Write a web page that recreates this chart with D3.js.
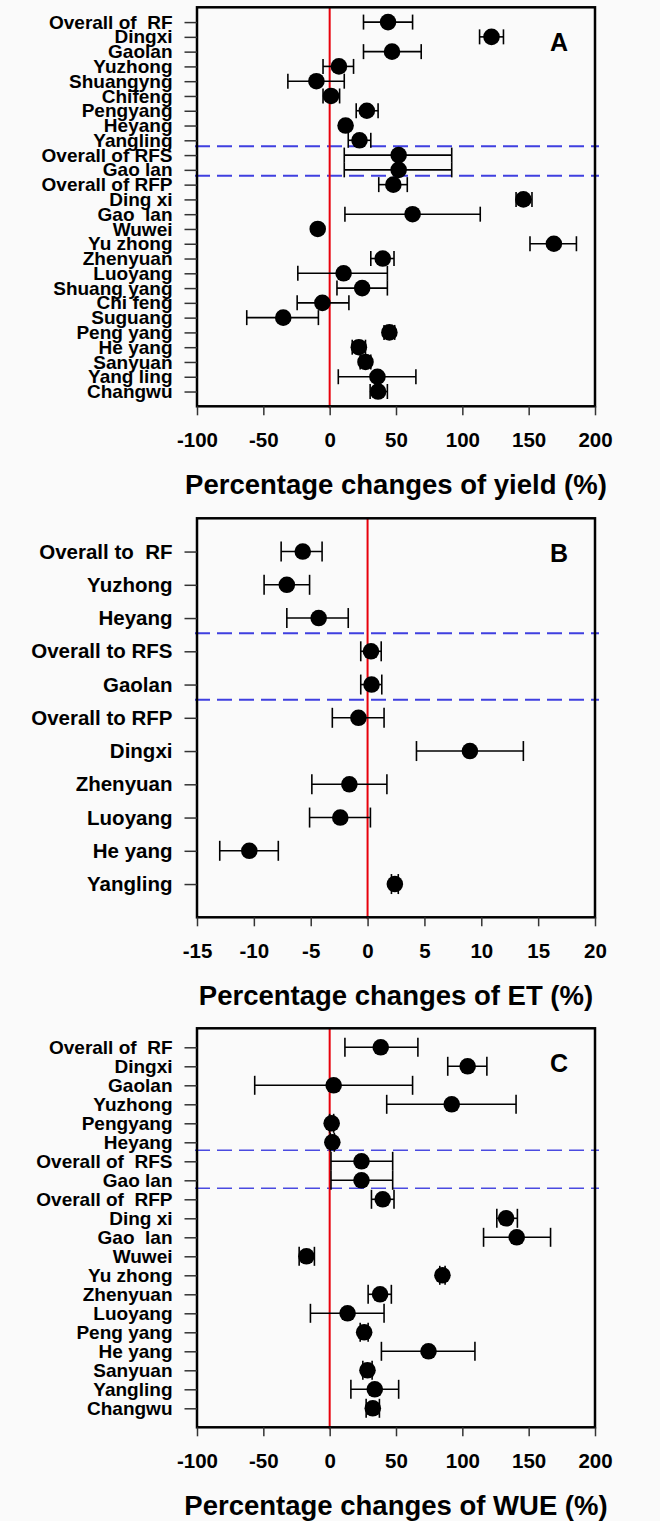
<!DOCTYPE html>
<html lang="en">
<head>
<meta charset="UTF-8" />
<title>percentage changes</title>
<script src="https://cdn.jsdelivr.net/npm/d3@7"></script>
<style>
  body { margin: 0; background: #fafafa; }
  svg text { font-family: "Liberation Sans", Arial, sans-serif; font-weight: bold; fill: #000; white-space: pre; }
</style>
</head>
<body>
<svg id="fig" width="660" height="1521"></svg>
<script>
// ---- panel A : yield ----
let yieldSites = ["Overall of  RF", "Dingxi", "Gaolan", "Yuzhong", "Shuangyng", "Chifeng", "Pengyang", "Heyang", "Yangling",
  "Overall of RFS", "Gao lan", "Overall of RFP", "Ding xi", "Gao  lan", "Wuwei", "Yu zhong", "Zhenyuan", "Luoyang",
  "Shuang yang", "Chi feng", "Suguang", "Peng yang", "He yang", "Sanyuan", "Yang ling", "Changwu"];
let yieldMean = [44, 122, 47, 7, -10, 1, 28, 12, 22.5, 52, 52, 48, 146, 62.5, -9, 169, 40, 10.5, 24.5, -5.5, -35, 45, 22, 27, 36, 36.5];
let yieldLow = [25.5, 113, 25.5, -5, -31.5, -5, 20, 10, 14, 11, 11, 37, 140.5, 11.5, -9, 151, 31, -24, 5.5, -24.5, -62.5, 41, 17, 23, 6.5, 30.5];
let yieldHigh = [62.5, 131, 69, 18, 11, 7.5, 36.5, 14, 31, 92, 92, 58.5, 152.5, 113.5, -9, 186, 48.5, 43.5, 43.5, 14.5, -8.5, 49, 27, 31, 65, 43.5];
let yieldSplits = ["Yangling", "Gao lan"]; // dashed line drawn below these rows
let yieldTicks = [-100, -50, 0, 50, 100, 150, 200];

// ---- panel B : ET ----
let etSites = ["Overall to  RF", "Yuzhong", "Heyang", "Overall to RFS", "Gaolan", "Overall to RFP", "Dingxi", "Zhenyuan", "Luoyang", "He yang", "Yangling"];
let etMean = [-5.7, -7.1, -4.3, 0.3, 0.35, -0.8, 9.0, -1.6, -2.4, -10.4, 2.4];
let etLow = [-7.6, -9.1, -7.1, -0.6, -0.6, -3.1, 4.3, -4.9, -5.1, -13.0, 2.1];
let etHigh = [-4.0, -5.1, -1.7, 1.2, 1.25, 1.45, 13.7, 1.7, 0.25, -7.85, 2.7];
let etSplits = ["Heyang", "Gaolan"];
let etTicks = [-15, -10, -5, 0, 5, 10, 15, 20];

// ---- panel C : WUE ----
let wueSites = ["Overall of  RF", "Dingxi", "Gaolan", "Yuzhong", "Pengyang", "Heyang", "Overall of  RFS", "Gao lan",
  "Overall of  RFP", "Ding xi", "Gao  lan", "Wuwei", "Yu zhong", "Zhenyuan", "Luoyang", "Peng yang", "He yang",
  "Sanyuan", "Yangling", "Changwu"];
let wueMean = [38.5, 104, 3, 92, 1.5, 2, 24, 24, 40, 133, 141, -17.5, 85, 38, 13.5, 26, 74.5, 28.5, 34, 32.5];
let wueLow = [11.5, 89, -56.5, 43, 0, 0.5, 1, 1, 31.5, 126, 116, -23, 83, 29, -14.5, 23, 39, 25, 16, 27.5];
let wueHigh = [66.5, 118.5, 62.5, 140.5, 3, 3.5, 47.5, 47.5, 48.5, 141.5, 166.5, -11.5, 87, 46.5, 41, 29, 109.5, 32, 52, 37.5];
let wueSplits = ["Heyang", "Gao lan"];
let wueTicks = [-100, -50, 0, 50, 100, 150, 200];

let panels = [
  { tag: "A", sites: yieldSites, mean: yieldMean, low: yieldLow, high: yieldHigh, splits: yieldSplits, ticks: yieldTicks,
    title: "Percentage changes of yield (%)", top: 7.3, labelSize: 19, cap: 7.5, dash: "#3f3fe0", dashW: 2 },
  { tag: "B", sites: etSites, mean: etMean, low: etLow, high: etHigh, splits: etSplits, ticks: etTicks,
    title: "Percentage changes of ET (%)", top: 518.3, labelSize: 20.5, cap: 10, dash: "#3f3fe0", dashW: 2 },
  { tag: "C", sites: wueSites, mean: wueMean, low: wueLow, high: wueHigh, splits: wueSplits, ticks: wueTicks,
    title: "Percentage changes of WUE (%)", top: 1028.3, labelSize: 19, cap: 9.5, dash: "#4a4ae0", dashW: 1.6 }
];

let svg = d3.select("#fig");
let left = 197, right = 595, boxH = 399;

panels.forEach(function (p) {
  let g = svg.append("g");
  let bottom = p.top + boxH;
  let x = d3.scaleLinear().domain([p.ticks[0], p.ticks[p.ticks.length - 1]]).range([left, right]);
  let y = d3.scalePoint().domain(p.sites).range([p.top, bottom]).padding(1);
  let step = y.step();

  // dashed separators between groups
  p.splits.forEach(function (s) {
    g.append("line")
      .attr("x1", left - 2).attr("x2", right + 4)
      .attr("y1", y(s) + step / 2 - 1.5).attr("y2", y(s) + step / 2 - 1.5)
      .attr("stroke", p.dash).attr("stroke-width", p.dashW)
      .attr("stroke-dasharray", "15,7");
  });

  // zero line
  g.append("line")
    .attr("x1", x(0)).attr("x2", x(0))
    .attr("y1", p.top).attr("y2", bottom + 2)
    .attr("stroke", "#e8000b").attr("stroke-width", 2);

  let rows = p.sites.map((s, i) => ({ site: s, mean: p.mean[i], low: p.low[i], high: p.high[i] }));

  // error bars
  let eb = g.append("g").attr("stroke", "#000").attr("stroke-width", 1.6);
  eb.selectAll(".bar").data(rows).join("line")
    .attr("x1", d => x(d.low)).attr("x2", d => x(d.high))
    .attr("y1", d => y(d.site)).attr("y2", d => y(d.site));
  eb.selectAll(".capl").data(rows).join("line")
    .attr("x1", d => x(d.low)).attr("x2", d => x(d.low))
    .attr("y1", d => y(d.site) - p.cap).attr("y2", d => y(d.site) + p.cap);
  eb.selectAll(".caph").data(rows).join("line")
    .attr("x1", d => x(d.high)).attr("x2", d => x(d.high))
    .attr("y1", d => y(d.site) - p.cap).attr("y2", d => y(d.site) + p.cap);

  // means
  g.append("g").selectAll("circle").data(rows).join("circle")
    .attr("cx", d => x(d.mean)).attr("cy", d => y(d.site))
    .attr("r", 8.3).attr("fill", "#000");

  // frame
  g.append("rect")
    .attr("x", left).attr("y", p.top)
    .attr("width", right - left).attr("height", boxH)
    .attr("fill", "none").attr("stroke", "#000").attr("stroke-width", 2.5);

  // left axis
  let ya = g.append("g").attr("transform", `translate(${left},0)`)
    .call(d3.axisLeft(y).tickSize(12.5).tickPadding(12));
  ya.select(".domain").remove();
  ya.selectAll(".tick line").attr("stroke", "#333").attr("stroke-width", 1.5);
  ya.selectAll(".tick text").attr("font-size", p.labelSize).attr("fill", "#000")
    .attr("font-family", null);

  // bottom axis
  let xa = g.append("g").attr("transform", `translate(0,${bottom})`)
    .call(d3.axisBottom(x).tickValues(p.ticks).tickSize(9).tickFormat(d3.format("d")));
  xa.select(".domain").remove();
  xa.selectAll(".tick line").attr("stroke", "#333").attr("stroke-width", 1.5);
  xa.selectAll(".tick text").attr("font-size", 20.5).attr("fill", "#000")
    .attr("font-family", null)
    .attr("y", 34).attr("dy", "0.35em")
    .text(d => d < 0 ? "-" + Math.abs(d) : d);

  // panel letter
  g.append("text")
    .attr("x", 559).attr("y", p.top + 35).attr("dy", "0.35em")
    .attr("text-anchor", "middle").attr("font-size", 25)
    .text(p.tag);

  // axis title
  g.append("text")
    .attr("x", (left + right) / 2).attr("y", bottom + 78).attr("dy", "0.35em")
    .attr("text-anchor", "middle").attr("font-size", 27.5)
    .text(p.title);
});
</script>
</body>
</html>
